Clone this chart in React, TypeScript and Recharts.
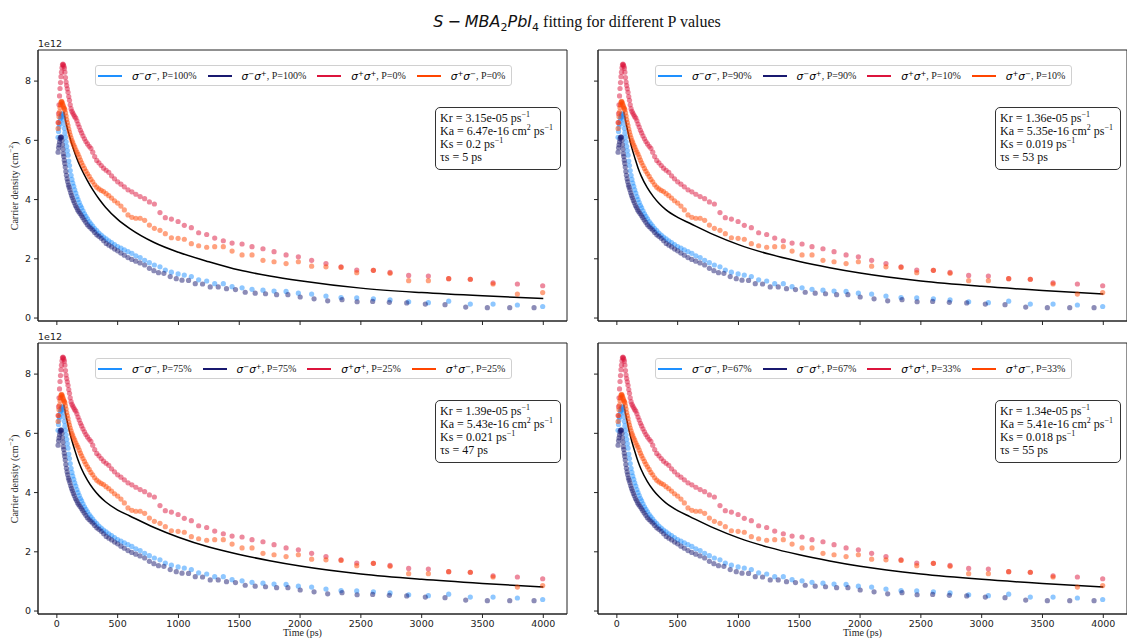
import React from 'react'
import { ComposedChart, Scatter, Line, XAxis, YAxis, ReferenceArea } from 'recharts'

// shared time grid for σ−σ−, σ+σ+ and σ+σ− (ps)
const timeGrid = [
  10, 14, 18, 22, 26, 30, 34, 38, 42, 46, 50,
  54, 58, 62, 66, 71, 76, 81, 86, 92, 98,
  104, 110, 117, 124, 131, 139, 147, 156, 165, 174,
  184, 194, 204, 215, 227, 239, 252, 266, 280, 295,
  311, 328, 346, 365, 384, 405, 427, 450, 474, 500,
  527, 555, 585, 617, 650, 685, 722, 761, 802, 848,
  892, 942, 997, 1048, 1106, 1166, 1232, 1298, 1369, 1441,
  1523, 1605, 1695, 1786, 1885, 1986, 2095, 2213, 2337, 2466,
  2603, 2740, 2893, 3055, 3222, 3400, 3587, 3787, 3995,
]

// σ−σ− (1e12 cm^-2)
const minusMinus = [
  6.1, 6.3, 6.45, 6.55, 6.65, 6.75, 6.8, 6.85, 6.9, 6.88, 6.8,
  6.7, 6.55, 6.4, 6.25, 6.1, 5.95, 5.8, 5.65, 5.5, 5.3,
  5.15, 4.98, 4.82, 4.68, 4.56, 4.45, 4.33, 4.22, 4.1, 4.0,
  3.9, 3.8, 3.72, 3.62, 3.52, 3.43, 3.35, 3.26, 3.18, 3.1,
  3.02, 2.95, 2.87, 2.8, 2.73, 2.67, 2.61, 2.55, 2.48, 2.41,
  2.36, 2.3, 2.24, 2.18, 2.1, 2.04, 1.95, 1.87, 1.79, 1.73,
  1.62, 1.55, 1.49, 1.45, 1.4, 1.29, 1.25, 1.16, 1.16, 1.06,
  1.02, 0.97, 0.94, 0.91, 0.9, 0.84, 0.81, 0.74, 0.69, 0.68,
  0.65, 0.61, 0.55, 0.52, 0.57, 0.47, 0.47, 0.44, 0.39,
]

// σ+σ+
const plusPlus = [
  6.6, 6.9, 7.2, 7.5, 7.75, 7.95, 8.15, 8.3, 8.45, 8.55, 8.57,
  8.55, 8.5, 8.43, 8.3, 8.12, 7.97, 7.85, 7.74, 7.62, 7.48,
  7.35, 7.2, 7.07, 6.98, 6.92, 6.86, 6.8, 6.75, 6.66, 6.55,
  6.45, 6.34, 6.25, 6.15, 6.05, 5.96, 5.88, 5.8, 5.73, 5.6,
  5.45, 5.32, 5.24, 5.15, 5.06, 4.99, 4.92, 4.8, 4.7, 4.6,
  4.52, 4.43, 4.33, 4.26, 4.18, 4.1, 4.03, 3.92, 3.85, 3.56,
  3.39, 3.34, 3.26, 3.13, 3.05, 2.88, 2.82, 2.7, 2.61, 2.53,
  2.5, 2.41, 2.34, 2.24, 2.13, 2.07, 1.95, 1.84, 1.73, 1.62,
  1.61, 1.54, 1.44, 1.42, 1.33, 1.31, 1.19, 1.15, 1.09,
]

// σ+σ−
const plusMinus = [
  6.4, 6.6, 6.8, 6.95, 7.1, 7.2, 7.28, 7.32, 7.3, 7.25, 7.2,
  7.15, 7.1, 7.07, 7.03, 6.93, 6.82, 6.7, 6.6, 6.5, 6.38,
  6.28, 6.18, 6.08, 5.99, 5.92, 5.84, 5.77, 5.68, 5.6, 5.53,
  5.43, 5.33, 5.24, 5.15, 5.05, 4.96, 4.87, 4.78, 4.68, 4.6,
  4.5, 4.42, 4.36, 4.31, 4.27, 4.2, 4.13, 4.05, 3.96, 3.88,
  3.78, 3.65, 3.48, 3.4, 3.37, 3.37, 3.3, 3.14, 3.03, 2.96,
  2.85, 2.71, 2.69, 2.66, 2.51, 2.44, 2.39, 2.41, 2.41, 2.26,
  2.13, 2.13, 1.95, 1.9, 1.84, 1.9, 1.75, 1.73, 1.71, 1.53,
  1.61, 1.51, 1.26, 1.26, 1.33, 1.31, 1.15, 0.81, 0.86,
]

// σ−σ+ has its own time grid
const minusPlusTime = [
  10, 14, 18, 22, 26, 30, 34, 38, 42, 46, 50,
  53, 57, 61, 65, 69, 74, 79, 84, 89, 95,
  101, 107, 114, 121, 128, 136, 144, 153, 162, 171,
  181, 191, 202, 213, 225, 238, 251, 265, 280, 295,
  311, 328, 346, 365, 385, 406, 428, 451, 475, 500,
  527, 555, 585, 616, 649, 684, 722, 761, 798, 836,
  880, 932, 982, 1029, 1083, 1138, 1198, 1261, 1327, 1395,
  1469, 1549, 1631, 1716, 1807, 1900, 2001, 2115, 2227, 2345,
  2469, 2597, 2734, 2877, 3030, 3192, 3362, 3540, 3724, 3924,
]
const minusPlus = [
  5.6, 5.75, 5.85, 5.95, 6.05, 6.1, 6.12, 6.1, 6.0, 5.85, 5.7,
  5.55, 5.45, 5.33, 5.22, 5.1, 4.95, 4.82, 4.7, 4.6, 4.49,
  4.42, 4.33, 4.23, 4.14, 4.06, 3.97, 3.89, 3.8, 3.73, 3.65,
  3.59, 3.53, 3.46, 3.39, 3.31, 3.23, 3.15, 3.09, 3.03, 2.97,
  2.89, 2.81, 2.76, 2.69, 2.61, 2.52, 2.46, 2.4, 2.33, 2.27,
  2.19, 2.12, 2.04, 1.98, 1.92, 1.86, 1.79, 1.68, 1.6, 1.53,
  1.51, 1.4, 1.33, 1.28, 1.27, 1.16, 1.15, 1.05, 1.05, 0.99,
  0.96, 0.87, 0.84, 0.82, 0.79, 0.79, 0.71, 0.65, 0.58, 0.62,
  0.55, 0.56, 0.53, 0.51, 0.47, 0.45, 0.37, 0.35, 0.35, 0.35,
]

// fitted curves
const fitTime = [56, 75, 100, 125, 150, 175, 200, 250, 300, 350, 400, 500, 600, 800, 1000, 1250, 1500, 1750, 2000, 2500, 3000, 3500, 4000]
const fitP100 = [6.97, 6.6, 6.2, 5.85, 5.55, 5.28, 5.05, 4.65, 4.3, 4.0, 3.74, 3.33, 3.02, 2.55, 2.22, 1.9, 1.62, 1.42, 1.26, 1.01, 0.86, 0.75, 0.66]
const fitP90 = [6.97, 6.6, 6.12, 5.72, 5.38, 5.06, 4.8, 4.4, 4.1, 3.86, 3.67, 3.4, 3.2, 2.81, 2.48, 2.16, 1.91, 1.7, 1.52, 1.25, 1.07, 0.93, 0.81]
const fitP75 = [6.97, 6.6, 6.13, 5.74, 5.4, 5.09, 4.83, 4.43, 4.12, 3.88, 3.69, 3.41, 3.21, 2.82, 2.49, 2.16, 1.91, 1.7, 1.52, 1.25, 1.07, 0.93, 0.81]
const fitP67 = [6.97, 6.59, 6.1, 5.7, 5.36, 5.04, 4.78, 4.38, 4.08, 3.85, 3.66, 3.39, 3.19, 2.8, 2.47, 2.15, 1.9, 1.69, 1.51, 1.25, 1.07, 0.93, 0.81]

const xTicks = [0, 500, 1000, 1500, 2000, 2500, 3000, 3500, 4000]
const yTicks = [0, 2, 4, 6, 8]

const pair = (ts: number[], vs: number[]) => ts.map((t, i) => ({ t, v: vs[i] }))

const SERIES = [
  { name: 'mm', color: '#1E90FF', data: pair(timeGrid, minusMinus) },
  { name: 'mp', color: '#191970', data: pair(minusPlusTime, minusPlus) },
  { name: 'pp', color: '#DC143C', data: pair(timeGrid, plusPlus) },
  { name: 'pm', color: '#FF4500', data: pair(timeGrid, plusMinus) },
]

const PANELS = [
  { left: 38, top: 50, pm: '100', pp: '0', fit: fitP100, kr: '3.15e-05', ka: '6.47e-16', ks: '0.2', ts: '5', xl: false, yl: true },
  { left: 598, top: 50, pm: '90', pp: '10', fit: fitP90, kr: '1.36e-05', ka: '5.35e-16', ks: '0.019', ts: '53', xl: false, yl: false },
  { left: 38, top: 343, pm: '75', pp: '25', fit: fitP75, kr: '1.39e-05', ka: '5.43e-16', ks: '0.021', ts: '47', xl: true, yl: true },
  { left: 598, top: 343, pm: '67', pp: '33', fit: fitP67, kr: '1.34e-05', ka: '5.41e-16', ks: '0.018', ts: '55', xl: true, yl: false },
]

const PW = 529
const PH = 271
const XDOM: [number, number] = [-155, 4195]
const YDOM: [number, number] = [-0.1, 9.05]
const SANS = 'DejaVu Sans'
const SERIF = 'Liberation Serif'

const dot = (color: string) => (p: any) => (
  <circle cx={p.cx} cy={p.cy} r={2.6} fill={color} fillOpacity={0.5} />
)

const supStyle = { fontSize: 7, lineHeight: 0, fontStyle: 'normal' as const }

function Sig({ a, b }: { a: string; b: string }) {
  return (
    <span style={{ fontFamily: SANS, fontStyle: 'italic', fontSize: 10.5 }}>
      σ<sup style={supStyle}>{a}</sup>σ<sup style={supStyle}>{b}</sup>
    </span>
  )
}

function Legend({ left, top, pm, pp }: { left: number; top: number; pm: string; pp: string }) {
  const items = [
    { c: '#1E90FF', a: '−', b: '−', p: pm },
    { c: '#191970', a: '−', b: '+', p: pm },
    { c: '#DC143C', a: '+', b: '+', p: pp },
    { c: '#FF4500', a: '+', b: '−', p: pp },
  ]
  return (
    <div style={{
      position: 'absolute', left, top, height: 21, boxSizing: 'border-box',
      border: '1px solid #d0d0d0', borderRadius: 3, background: 'rgba(255,255,255,0.85)',
      display: 'flex', alignItems: 'center', padding: '0 6px 0 2px', gap: 11, whiteSpace: 'nowrap',
    }}>
      {items.map((it, i) => (
        <div key={i} style={{ display: 'flex', alignItems: 'center' }}>
          <span style={{ display: 'inline-block', width: 24, height: 2, background: it.c, marginRight: 10 }} />
          <Sig a={it.a} b={it.b} />
          <span style={{ fontFamily: SERIF, fontSize: 10, color: '#222' }}>, P={it.p}%</span>
        </div>
      ))}
    </div>
  )
}

function Panel(props: typeof PANELS[number]) {
  const { left, top, pm, pp, fit, kr, ka, ks, ts, xl, yl } = props
  const fitData = pair(fitTime, fit)
  const tickStyle = { fontSize: 9.5, fontFamily: SANS, fill: '#222' }
  const sup = { fontSize: 8, lineHeight: 0 }
  return (
    <>
      <div style={{ position: 'absolute', left: left - 38, top: top - 10 }}>
        <ComposedChart width={38 + PW + 10} height={10 + PH + 30} margin={{ top: 10, right: 10, bottom: 0, left: 0 }}>
          <XAxis type="number" dataKey="t" domain={XDOM} ticks={xTicks} interval={0} allowDataOverflow
            height={30} tickSize={4} tickMargin={2} stroke="#222" tick={tickStyle}
            tickFormatter={(v: number) => (xl ? String(v) : '')} />
          <YAxis type="number" dataKey="v" domain={YDOM} ticks={yTicks} interval={0} allowDataOverflow
            width={38} tickSize={4} tickMargin={3} stroke="#222" tick={tickStyle}
            tickFormatter={(v: number) => (yl ? String(v) : '')} />
          {SERIES.map(s => (
            <Scatter key={s.name} data={s.data} shape={dot(s.color)} isAnimationActive={false} />
          ))}
          <Line data={fitData} dataKey="v" type="monotone" stroke="#000" strokeWidth={1.5} dot={false}
            activeDot={false} isAnimationActive={false} />
          <ReferenceArea x1={XDOM[0]} x2={XDOM[1]} y1={YDOM[0]} y2={YDOM[1]} fill="none" fillOpacity={0}
            stroke="#222" strokeWidth={1} ifOverflow="visible" />
        </ComposedChart>
      </div>
      {yl && (
        <>
          <div style={{ position: 'absolute', left, top: top - 12, fontFamily: SANS, fontSize: 9.5, color: '#222' }}>1e12</div>
          <div style={{
            position: 'absolute', left: 14, top: top + PH / 2, transform: 'translate(-50%, -50%) rotate(-90deg)',
            fontFamily: SERIF, fontSize: 10, whiteSpace: 'nowrap', color: '#222',
          }}>
            Carrier density (cm<sup style={{ fontSize: 7, lineHeight: 0 }}>−2</sup>)
          </div>
        </>
      )}
      {xl && (
        <div style={{
          position: 'absolute', left: left + PW / 2, top: top + PH + 13, transform: 'translateX(-50%)',
          fontFamily: SERIF, fontSize: 10, whiteSpace: 'nowrap', color: '#222',
        }}>Time (ps)</div>
      )}
      <Legend left={left + 57} top={top + 15} pm={pm} pp={pp} />
      <div style={{
        position: 'absolute', left: left + 397, top: top + 57, width: 126, boxSizing: 'border-box',
        padding: '4px 4px 5px', border: '1px solid #333', borderRadius: 5, background: '#fff',
        fontFamily: SERIF, fontSize: 12, lineHeight: '13px', color: '#111', whiteSpace: 'nowrap',
      }}>
        <div>Kr = {kr} ps<sup style={sup}>−1</sup></div>
        <div>Ka = {ka} cm<sup style={sup}>2</sup> ps<sup style={sup}>−1</sup></div>
        <div>Ks = {ks} ps<sup style={sup}>−1</sup></div>
        <div>τs = {ts} ps</div>
      </div>
    </>
  )
}

export default function App() {
  return (
    <div style={{ position: 'absolute', left: 0, top: 0, width: 1127, height: 642, overflow: 'hidden', background: '#fff' }}>
      <div style={{
        position: 'absolute', left: 577, top: 12, transform: 'translateX(-50%)', whiteSpace: 'nowrap', fontSize: 16, color: '#111',
      }}>
        <span style={{ fontFamily: SANS, fontStyle: 'italic' }}>S</span>
        <span style={{ fontFamily: SANS, margin: '0 4px' }}>−</span>
        <span style={{ fontFamily: SANS, fontStyle: 'italic' }}>MBA</span>
        <sub style={{ fontFamily: SANS, fontSize: 11, lineHeight: 0 }}>2</sub>
        <span style={{ fontFamily: SANS, fontStyle: 'italic' }}>PbI</span>
        <sub style={{ fontFamily: SANS, fontSize: 11, lineHeight: 0 }}>4</sub>
        <span style={{ fontFamily: SERIF }}> fitting for different P values</span>
      </div>
      {PANELS.map((p, i) => <Panel key={i} {...p} />)}
    </div>
  )
}
